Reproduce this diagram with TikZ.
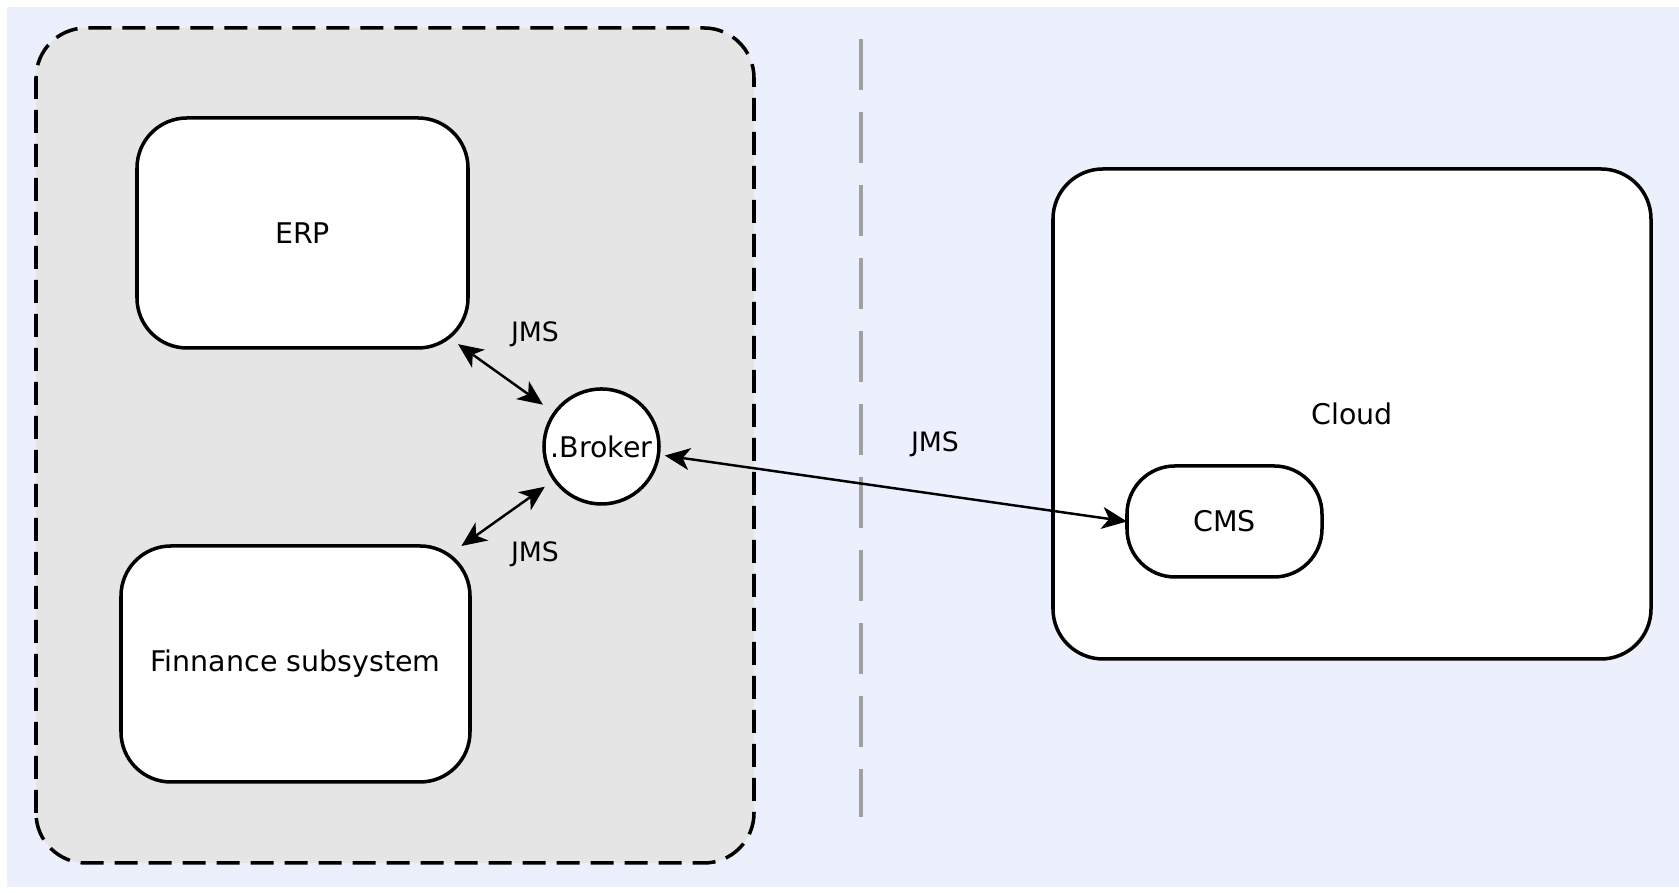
\documentclass[tikz,border=0pt]{standalone}
\usepackage{fontspec}
\setmainfont{DejaVu Sans}
\usetikzlibrary{arrows.meta}

\definecolor{bgblue}{RGB}{236,240,252}
\definecolor{zonegray}{RGB}{229,229,229}
\definecolor{divgray}{RGB}{160,160,160}

\def\boxrad{0.5cm}
\def\lw{1pt}

\tikzset{
  sysbox/.style={draw, fill=white, line width=\lw, rounded corners=\boxrad,
    inner sep=0pt, outer sep=0pt},
  link/.style={{Stealth[length=2.5mm,width=2.2mm,inset=0.7mm]}-{Stealth[length=2.5mm,width=2.2mm,inset=0.7mm]},
    line width=0.7pt},
  tag/.style={font=\fontsize{7.6}{9}\selectfont},
}

\begin{document}
\begin{tikzpicture}[font=\fontsize{8.1}{10}\selectfont]
  \useasboundingbox (0,0) rectangle (16.79,8.93);
  % backdrop
  \fill[bgblue] (0.07,0.06) rectangle (16.79,8.86);
  % on-premises zone
  \draw[fill=zonegray, line width=\lw, dash pattern=on 2.3mm off 1.1mm,
    rounded corners=\boxrad] (0.36,0.30) rectangle (7.54,8.65);
  % border between the two zones
  \draw[divgray, line width=0.9pt, dash pattern=on 5.1mm off 2.2mm] (8.61,8.54) -- (8.61,0.76);
  % local systems
  \node[sysbox, minimum width=3.31cm, minimum height=2.30cm] (erp) at (3.025,6.60) {ERP};
  \node[sysbox, minimum width=3.49cm, minimum height=2.36cm] (finance) at (2.955,2.29) {Finnance subsystem};
  % message broker
  \node[draw, circle, fill=white, line width=\lw, minimum size=1.15cm,
    inner sep=0pt, outer sep=0pt] (broker) at (6.015,4.465) {.Broker};
  % cloud side
  \node[sysbox, minimum width=5.98cm, minimum height=4.90cm] (cloud) at (13.52,4.79) {Cloud};
  \node[sysbox, rounded corners=0.48cm, minimum width=1.95cm, minimum height=1.11cm] (cms) at (12.245,3.715) {CMS};
  % JMS links
  \draw[link, shorten <=-0.066cm, shorten >=0.145cm] (erp) -- (broker);
  \draw[link, shorten >=0.12cm] (finance) -- (broker);
  \draw[link, shorten <=0.065cm] (broker) -- (cms.west);
  \node[tag] (jmserp) at (5.35,5.59) {JMS};
  \node[tag] (jmsfin) at (5.35,3.39) {JMS};
  \node[tag] (jmscloud) at (9.35,4.49) {JMS};
\end{tikzpicture}
\end{document}
